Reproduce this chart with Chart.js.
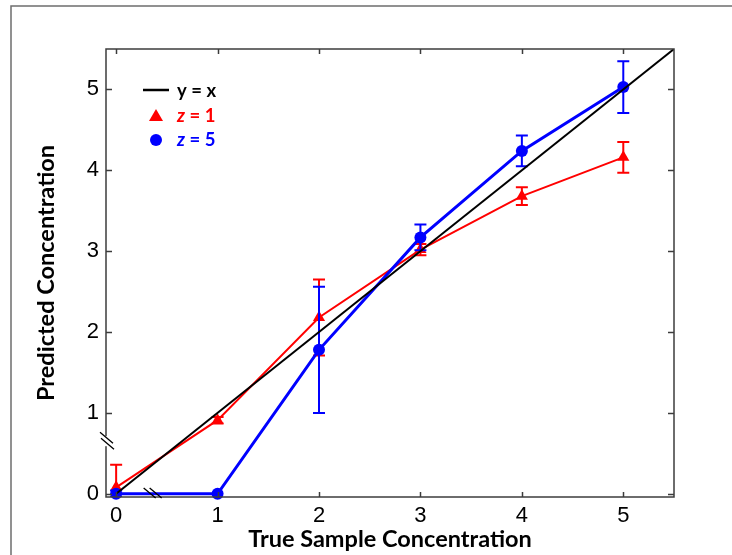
<!DOCTYPE html>
<html>
<head>
<meta charset="utf-8">
<script src="https://cdn.jsdelivr.net/npm/chart.js@4/dist/chart.umd.min.js"></script>
<style>
  html, body { margin: 0; padding: 0; background: #fff; overflow: hidden; }
  #wrap { width: 732px; height: 555px; position: relative; }
</style>
</head>
<body>
<div id="wrap"><canvas id="chart"></canvas></div>
<script>
// values
const concentrations = [0, 1, 2, 3, 4, 5];
const xTicks = [0, 1, 2, 3, 4, 5];
const yTicks = [0, 1, 2, 3, 4, 5];
const identityX = [0, 5.5];

const z1Values = [0.08, 0.91, 2.18, 3.02, 3.68, 4.16];
const z1Errors = [0.28, 0.04, 0.47, 0.07, 0.11, 0.19];
const z5Values = [0.0, 0.0, 1.78, 3.17, 4.24, 5.03];
const z5Errors = [0.04, 0.0, 0.78, 0.16, 0.19, 0.32];

const labelFont = "'Lato', 'Open Sans', sans-serif";
const tickFont = "'Liberation Sans', Arial, sans-serif";

const toPoints = (xs, ys) => xs.map((x, i) => ({ x: x, y: ys[i] }));

// error bars are drawn right after their own dataset
const errorBars = {
  id: 'errorBars',
  afterDatasetDraw(chart, args) {
    const ds = chart.data.datasets[args.index];
    if (!ds.errors) return;
    const { ctx, chartArea, scales: { x, y } } = chart;
    ctx.save();
    ctx.beginPath();
    ctx.rect(chartArea.left, chartArea.top, chartArea.width, chartArea.height);
    ctx.clip();
    ctx.strokeStyle = ds.borderColor;
    ctx.lineWidth = 2;
    ds.data.forEach((p, i) => {
      const e = ds.errors[i];
      if (!e) return;
      const px = x.getPixelForValue(p.x);
      const top = y.getPixelForValue(p.y + e);
      const bot = y.getPixelForValue(p.y - e);
      ctx.beginPath();
      ctx.moveTo(px, top); ctx.lineTo(px, bot);
      ctx.moveTo(px - 6, top); ctx.lineTo(px + 6, top);
      ctx.moveTo(px - 6, bot); ctx.lineTo(px + 6, bot);
      ctx.stroke();
    });
    ctx.restore();
  }
};

// outer frame, box round the plot, inward ticks, axis breaks, legend
const decorations = {
  id: 'decorations',
  beforeDraw(chart) {
    const { ctx } = chart;
    ctx.save();
    ctx.strokeStyle = '#6e6e6e';
    ctx.lineWidth = 1.5;
    ctx.beginPath();
    ctx.moveTo(11, 560); ctx.lineTo(11, 6); ctx.lineTo(740, 6);
    ctx.stroke();
    ctx.restore();
  },
  afterDraw(chart) {
    const { ctx, chartArea: a, scales: { x, y } } = chart;
    ctx.save();
    ctx.strokeStyle = '#3c3c3c';
    ctx.lineWidth = 1.5;
    ctx.strokeRect(a.left, a.top, a.width, a.height);

    ctx.beginPath();
    xTicks.forEach(v => {
      const px = Math.round(x.getPixelForValue(v)) + 0.5;
      ctx.moveTo(px, a.top); ctx.lineTo(px, a.top + 5);
      ctx.moveTo(px, a.bottom); ctx.lineTo(px, a.bottom - 5);
    });
    yTicks.forEach(v => {
      const py = Math.round(y.getPixelForValue(v)) + 0.5;
      ctx.moveTo(a.left, py); ctx.lineTo(a.left + 6, py);
      ctx.moveTo(a.right, py); ctx.lineTo(a.right - 6, py);
    });
    ctx.stroke();

    // y axis break
    const by = y.getPixelForValue(0.65);
    ctx.fillStyle = '#fff';
    ctx.fillRect(a.left - 2, by - 5, 4, 10);
    ctx.strokeStyle = '#000';
    ctx.lineWidth = 1.3;
    ctx.beginPath();
    ctx.moveTo(a.left - 6, by - 9); ctx.lineTo(a.left + 7, by + 2);
    ctx.moveTo(a.left - 5, by - 3); ctx.lineTo(a.left + 8, by + 8);
    ctx.stroke();

    // x axis break
    const bx = x.getPixelForValue(0.36);
    ctx.beginPath();
    ctx.moveTo(bx - 9, a.bottom - 9); ctx.lineTo(bx + 3, a.bottom + 1);
    ctx.moveTo(bx - 3, a.bottom - 9); ctx.lineTo(bx + 9, a.bottom + 1);
    ctx.stroke();

    // legend
    const lx = 143, ly = 90;
    ctx.strokeStyle = '#000';
    ctx.lineWidth = 2.5;
    ctx.beginPath();
    ctx.moveTo(lx, ly); ctx.lineTo(lx + 26, ly);
    ctx.stroke();

    ctx.fillStyle = '#ff0000';
    ctx.beginPath();
    ctx.moveTo(156, 109); ctx.lineTo(163, 121); ctx.lineTo(149, 121);
    ctx.closePath();
    ctx.fill();

    ctx.fillStyle = '#0000ff';
    ctx.beginPath();
    ctx.arc(156, 140, 6, 0, Math.PI * 2);
    ctx.fill();

    ctx.textBaseline = 'middle';
    ctx.textAlign = 'left';
    const entries = [
      { z: null, text: 'y = x', color: '#000', yy: 91 },
      { z: 'z', text: ' = 1', color: '#ff0000', yy: 116 },
      { z: 'z', text: ' = 5', color: '#0000ff', yy: 140 }
    ];
    entries.forEach(e => {
      let tx = 177;
      ctx.fillStyle = e.color;
      if (e.z) {
        ctx.font = 'italic bold 18.5px ' + labelFont;
        ctx.fillText(e.z, tx, e.yy);
        tx += ctx.measureText(e.z).width;
      }
      ctx.font = 'bold 18.5px ' + labelFont;
      ctx.fillText(e.text, tx, e.yy);
    });
    ctx.restore();
  }
};

new Chart(document.getElementById('chart'), {
  type: 'line',
  data: {
    datasets: [
      {
        label: 'y = x',
        data: toPoints(identityX, identityX),
        borderColor: '#000000',
        borderWidth: 2,
        pointRadius: 0,
        order: 0
      },
      {
        label: 'z = 5',
        data: toPoints(concentrations, z5Values),
        errors: z5Errors,
        borderColor: '#0000ff',
        backgroundColor: '#0000ff',
        borderWidth: 3,
        pointStyle: 'circle',
        pointRadius: 6,
        pointBorderWidth: 0,
        clip: false,
        order: 1
      },
      {
        label: 'z = 1',
        data: toPoints(concentrations, z1Values),
        errors: z1Errors,
        borderColor: '#ff0000',
        backgroundColor: '#ff0000',
        borderWidth: 2,
        pointStyle: 'triangle',
        pointRadius: 7,
        pointBorderWidth: 0,
        clip: false,
        order: 2
      }
    ]
  },
  options: {
    responsive: true,
    maintainAspectRatio: false,
    animation: false,
    layout: { padding: { left: 0, top: 49, right: 58, bottom: 0 } },
    plugins: { legend: { display: false }, tooltip: { enabled: false } },
    scales: {
      x: {
        type: 'linear',
        min: -0.1,
        max: 5.5,
        afterBuildTicks: s => { s.ticks = xTicks.map(v => ({ value: v })); },
        afterFit: s => { s.height = 58; },
        grid: { display: false, drawTicks: false },
        border: { display: false },
        ticks: {
          padding: 6,
          color: '#000',
          font: { family: tickFont, size: 22 }
        },
        title: {
          display: true,
          text: 'True Sample Concentration',
          color: '#000',
          font: { family: labelFont, size: 23.5, weight: 'bold' },
          padding: { top: 0, bottom: 1 }
        }
      },
      y: {
        type: 'linear',
        min: -0.04,
        max: 5.5,
        afterBuildTicks: s => { s.ticks = yTicks.map(v => ({ value: v })); },
        afterFit: s => { s.width = 106; },
        grid: { display: false, drawTicks: false },
        border: { display: false },
        ticks: {
          padding: 7,
          color: '#000',
          font: { family: tickFont, size: 22 }
        },
        title: {
          display: true,
          text: 'Predicted Concentration',
          color: '#000',
          font: { family: labelFont, size: 23.5, weight: 'bold' },
          padding: { top: 32, bottom: 0 }
        }
      }
    }
  },
  plugins: [errorBars, decorations]
});
</script>
</body>
</html>
